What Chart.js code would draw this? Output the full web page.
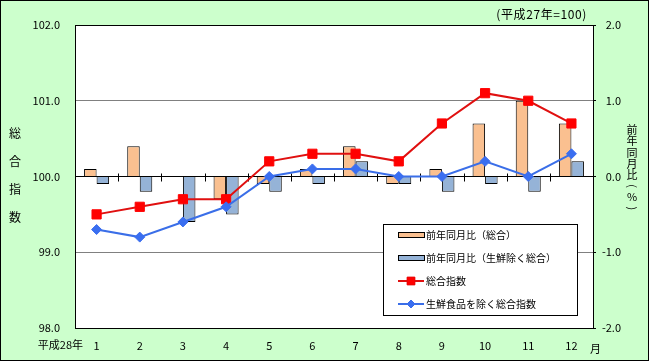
<!DOCTYPE html>
<html>
<head>
<meta charset="utf-8">
<script src="https://cdn.jsdelivr.net/npm/chart.js@4/dist/chart.umd.min.js"></script>
<style>
  body { margin: 0; background: #fff; }
  canvas { display: block; }
</style>
</head>
<body>
<canvas id="chart" width="649" height="361"></canvas>
<script>
// 月（平成28年）
const months = ['1', '2', '3', '4', '5', '6', '7', '8', '9', '10', '11', '12'];

// 総合指数（平成27年=100）
const sogoIndex = [99.5, 99.6, 99.7, 99.7, 100.2, 100.3, 100.3, 100.2, 100.7, 101.1, 101.0, 100.7];
// 生鮮食品を除く総合指数
const coreIndex = [99.3, 99.2, 99.4, 99.6, 100.0, 100.1, 100.1, 100.0, 100.0, 100.2, 100.0, 100.3];

// 前年同月比 (%)
const sogoYoY = [0.1, 0.4, 0.0, -0.3, -0.1, 0.1, 0.4, -0.1, 0.1, 0.7, 1.0, 0.7];
const coreYoY = [-0.1, -0.2, -0.6, -0.5, -0.2, -0.1, 0.2, -0.1, -0.2, -0.1, -0.2, 0.2];

const leftTicks = [98, 99, 100, 101, 102];
const rightTicks = [-2, -1, 0, 1, 2];

const FONT = '"Noto Sans CJK JP", "Noto Sans", sans-serif';
Chart.defaults.font.family = FONT;
Chart.defaults.font.size = 11;
Chart.defaults.color = '#000';

// background, plot area, extra texts, legend
const decor = {
  id: 'decor',
  beforeDraw(chart) {
    const { ctx, chartArea: a } = chart;
    ctx.save();
    ctx.fillStyle = '#ccffcc';
    ctx.fillRect(0, 0, chart.width, chart.height);
    ctx.strokeStyle = '#000';
    ctx.lineWidth = 1;
    ctx.strokeRect(0.5, 0.5, chart.width - 1, chart.height - 1);
    ctx.fillStyle = '#fff';
    ctx.fillRect(a.left, a.top, a.right - a.left, a.bottom - a.top);
    ctx.restore();
  },
  beforeDatasetsDraw(chart) {
    const { ctx, chartArea: a, scales } = chart;
    ctx.save();
    ctx.strokeStyle = '#000';
    ctx.lineWidth = 1;
    ctx.strokeRect(Math.round(a.left) + 0.5, Math.round(a.top) + 0.5,
      Math.round(a.right - a.left), Math.round(a.bottom - a.top));
    // category ticks on the zero line
    const x = scales.x;
    const y0 = Math.round(scales.y.getPixelForValue(100)) + 0.5;
    const half = (x.getPixelForValue(1) - x.getPixelForValue(0)) / 2;
    ctx.beginPath();
    for (let i = 1; i < months.length; i++) {
      const px = Math.round(x.getPixelForValue(i) - half) + 0.5;
      ctx.moveTo(px, y0 - 4);
      ctx.lineTo(px, y0 + 4);
    }
    ctx.stroke();
    ctx.restore();
  },
  afterDraw(chart) {
    const { ctx, chartArea: a } = chart;
    ctx.save();
    ctx.fillStyle = '#000';
    ctx.textBaseline = 'middle';

    ctx.textAlign = 'right';
    ctx.font = '12px ' + FONT;
    ctx.letterSpacing = '0.6px';
    ctx.fillText('(平成27年=100)', 587, 14);
    ctx.letterSpacing = '0px';
    ctx.font = '11px ' + FONT;
    ctx.fillText('平成28年', 83, 345);
    ctx.textAlign = 'left';
    ctx.fillText('月', a.right - 3, 349);

    // vertical axis titles
    ctx.textAlign = 'center';
    ctx.font = '12px ' + FONT;
    ['総', '合', '指', '数'].forEach((ch, i) => ctx.fillText(ch, 15, 133 + i * 28));
    ctx.font = '11px ' + FONT;
    ['前', '年', '同', '月', '比', '(', '%', ')'].forEach((ch, i) => {
      const cy = 130 + i * 11.2;
      if (ch === '(' || ch === ')') {
        ctx.save();
        ctx.translate(632, cy);
        ctx.rotate(Math.PI / 2);
        ctx.fillText(ch, 0, 0);
        ctx.restore();
      } else {
        ctx.fillText(ch, 632, cy);
      }
    });

    // legend
    const lx = 383, ly = 224, lw = 194, lh = 91;
    ctx.fillStyle = '#fff';
    ctx.fillRect(lx, ly, lw, lh);
    ctx.strokeStyle = '#000';
    ctx.lineWidth = 1;
    ctx.strokeRect(lx + 0.5, ly + 0.5, lw, lh);
    const rows = [235, 258, 281, 304];
    ctx.font = '10px ' + FONT;
    ctx.textAlign = 'left';
    chart.data.datasets.forEach((ds, i) => {
      const ry = rows[i];
      if (ds.type === 'bar') {
        ctx.fillStyle = ds.backgroundColor;
        ctx.fillRect(398, ry - 2, 26, 4);
        ctx.strokeStyle = '#000';
        ctx.strokeRect(398.5, ry - 2.5, 26, 5);
      } else {
        ctx.strokeStyle = ds.borderColor;
        ctx.lineWidth = 2;
        ctx.beginPath();
        ctx.moveTo(398, ry);
        ctx.lineTo(424, ry);
        ctx.stroke();
        ctx.lineWidth = 1;
        Chart.helpers.drawPoint(ctx, {
          pointStyle: ds.pointStyle,
          radius: ds.pointStyle === 'rect' ? 5.5 : 4,
          borderWidth: 1
        }, 411, ry);
        ctx.fillStyle = ds.pointBackgroundColor;
        ctx.fill();
      }
      ctx.fillStyle = '#000';
      ctx.fillText(ds.label, 426, ry);
    });
    ctx.restore();
  }
};

new Chart(document.getElementById('chart'), {
  data: {
    labels: months,
    datasets: [
      {
        type: 'bar',
        label: '前年同月比（総合）',
        data: sogoYoY,
        yAxisID: 'y2',
        backgroundColor: '#fac090',
        borderColor: '#000',
        borderWidth: 1,
        categoryPercentage: 0.58,
        barPercentage: 1.0,
        order: 2
      },
      {
        type: 'bar',
        label: '前年同月比（生鮮除く総合）',
        data: coreYoY,
        yAxisID: 'y2',
        backgroundColor: '#95b3d7',
        borderColor: '#000',
        borderWidth: 1,
        categoryPercentage: 0.58,
        barPercentage: 1.0,
        order: 2
      },
      {
        type: 'line',
        label: '総合指数',
        data: sogoIndex,
        yAxisID: 'y',
        borderColor: '#e01010',
        borderWidth: 2,
        pointStyle: 'rect',
        pointRadius: 6.5,
        pointBackgroundColor: '#ff0000',
        pointBorderColor: '#ff0000',
        pointBorderWidth: 1,
        tension: 0,
        order: 1
      },
      {
        type: 'line',
        label: '生鮮食品を除く総合指数',
        data: coreIndex,
        yAxisID: 'y',
        borderColor: '#3a6ee8',
        borderWidth: 2,
        pointStyle: 'rectRot',
        pointRadius: 5,
        pointBackgroundColor: '#3a6ef0',
        pointBorderColor: '#3a6ef0',
        pointBorderWidth: 1,
        tension: 0,
        order: 0
      }
    ]
  },
  options: {
    responsive: false,
    devicePixelRatio: 1,
    animation: false,
    layout: { padding: { left: 0, right: 28, top: 25, bottom: 0 } },
    plugins: {
      legend: { display: false },
      tooltip: { enabled: false }
    },
    scales: {
      x: {
        offset: true,
        grid: { display: false, drawTicks: false },
        border: { display: false },
        ticks: { padding: 11, maxRotation: 0, font: { size: 11 } },
        afterFit: (s) => { s.height = 33; }
      },
      y: {
        position: 'left',
        min: 98,
        max: 102,
        afterBuildTicks: (s) => { s.ticks = leftTicks.map(v => ({ value: v })); },
        grid: {
          drawTicks: false,
          color: (c) => (c.tick && c.tick.value === 100 ? '#000' : '#808080')
        },
        border: { display: false },
        ticks: { padding: 15, callback: (v) => v.toFixed(1) },
        afterFit: (s) => { s.width = 75; }
      },
      y2: {
        position: 'right',
        min: -2,
        max: 2,
        afterBuildTicks: (s) => { s.ticks = rightTicks.map(v => ({ value: v })); },
        grid: { drawOnChartArea: false, drawTicks: true, tickLength: 3, color: '#000' },
        border: { display: false },
        ticks: { padding: 4, crossAlign: 'far', callback: (v) => v.toFixed(1) },
        afterFit: (s) => { s.width = 28; }
      }
    }
  },
  plugins: [decor]
});
</script>
</body>
</html>
